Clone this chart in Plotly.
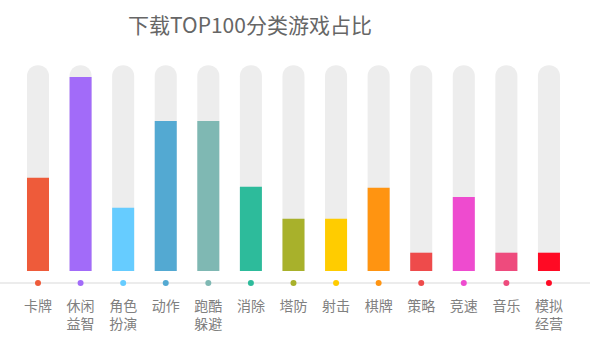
import plotly.graph_objects as go

categories = ["卡牌", "休闲<br>益智", "角色<br>扮演", "动作", "跑酷<br>躲避", "消除", "塔防",
              "射击", "棋牌", "策略", "竞速", "音乐", "模拟<br>经营"]
values = [10.2, 21.2, 6.9, 16.4, 16.4, 9.2, 5.7, 5.7, 9.1, 2.0, 8.1, 2.0, 2.0]
track_max = 22.5
colors = ["#EE5B3A", "#A26BF9", "#66CCFF", "#53A9D2", "#7FB8B3", "#2DBB9B", "#A8B12B",
          "#FFCC00", "#FF9411", "#EE4B4B", "#EE4BCF", "#EE4B7D", "#FF0A24"]

x = list(range(len(categories)))
px_per_unit = 9.15
dot_y = -12 / px_per_unit

fig = go.Figure()
fig.add_trace(go.Bar(x=x, y=[track_max] * len(x), width=0.517,
                     marker=dict(color="#EDEDED", cornerradius="50%", line=dict(width=0)),
                     hoverinfo="skip", showlegend=False))
fig.add_trace(go.Bar(x=x, y=values, width=0.517,
                     marker=dict(color=colors, line=dict(width=0)),
                     showlegend=False))
fig.add_shape(type="line", xref="paper", yref="y", x0=0, x1=590 / 600, y0=dot_y, y1=dot_y,
              line=dict(color="#E6E6E6", width=1.5), layer="below")
fig.add_trace(go.Scatter(x=x, y=[dot_y] * len(x), mode="markers",
                         marker=dict(color=colors, size=6), showlegend=False, hoverinfo="skip"))

fig.update_layout(
    width=600, height=348,
    margin=dict(l=0, r=0, t=60, b=58),
    barmode="overlay",
    plot_bgcolor="white", paper_bgcolor="white",
    font=dict(family="Noto Sans CJK SC", color="#808080"),
    title=dict(text="下载TOP100分类游戏占比", x=250 / 600, xanchor="center",
               y=1 - 26 / 348, yanchor="middle", yref="container",
               font=dict(size=21, color="#666666", family="Noto Sans CJK SC")),
    xaxis=dict(range=[-38 / 42.58, 562 / 42.58], tickmode="array", tickvals=x,
               ticktext=categories, showgrid=False, zeroline=False, showline=False,
               ticks="", ticklabelstandoff=6, tickfont=dict(size=14, color="#808080"),
               fixedrange=True),
    yaxis=dict(range=[-19 / px_per_unit, 211 / px_per_unit], visible=False,
               showgrid=False, zeroline=False, fixedrange=True),
)

fig.write_html("out.html")
